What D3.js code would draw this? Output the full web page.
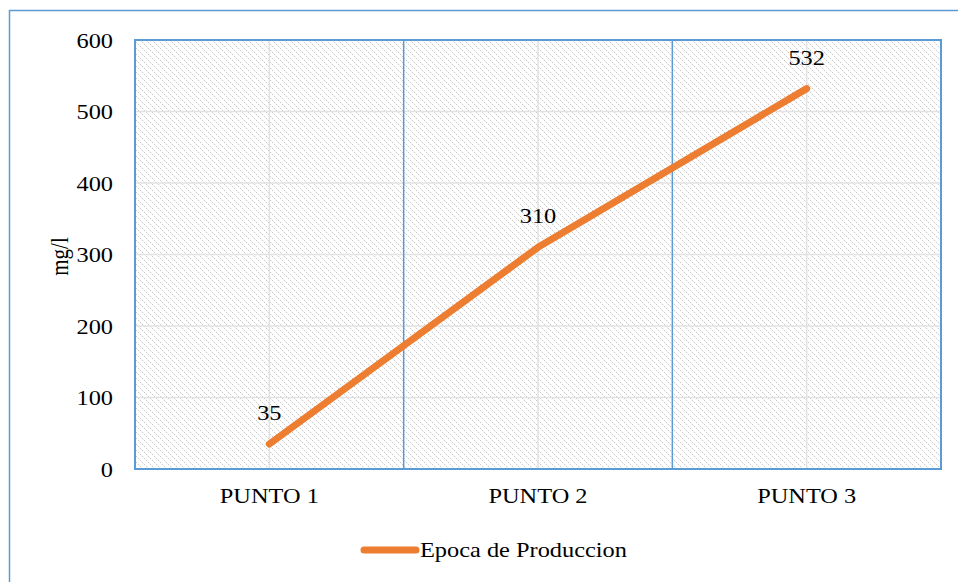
<!DOCTYPE html>
<html>
<head>
<meta charset="utf-8">
<script src="https://cdn.jsdelivr.net/npm/d3@7/dist/d3.min.js"></script>
<style>
  html, body { margin: 0; padding: 0; background: #fff; }
  svg { display: block; }
  svg text { font-family: "Liberation Serif", "Times New Roman", Times, serif; fill: #000; }
</style>
</head>
<body>
<svg id="chart" width="958" height="582"></svg>
<script>
// Data
const categories = ["PUNTO 1", "PUNTO 2", "PUNTO 3"];
const values = [35, 310, 532];
const yTicks = [0, 100, 200, 300, 400, 500, 600];
const seriesName = "Epoca de Produccion";
const yTitle = "mg/l";

const W = 958, H = 582;
const FONT = 21;
const SX = 1.16; // horizontal widening of the lettering
const margin = { left: 135, right: 17, top: 40, bottom: 113 };
const plotW = W - margin.left - margin.right;
const plotH = H - margin.top - margin.bottom;

const svg = d3.select("#chart");

// Hatched plot background: dotted downward diagonals on a 6px tile
const defs = svg.append("defs");
const pat = defs.append("pattern")
  .attr("id", "hatch")
  .attr("patternUnits", "userSpaceOnUse")
  .attr("x", margin.left).attr("y", margin.top)
  .attr("width", 6).attr("height", 6);
pat.append("rect").attr("width", 6).attr("height", 6).attr("fill", "#fff");
pat.selectAll("rect.px").data(d3.range(6)).join("rect")
  .attr("class", "px")
  .attr("x", d => d).attr("y", d => d)
  .attr("width", 1).attr("height", 1)
  .attr("shape-rendering", "crispEdges")
  .attr("fill", d => d % 2 === 0 ? "#c9c9c9" : "#ececec");

// Outer chart frame (left and top edges)
svg.append("path")
  .attr("d", `M9.5,${H} L9.5,10.5 L${W},10.5`)
  .attr("fill", "none")
  .attr("stroke", "#5b9bd5")
  .attr("stroke-width", 1.5);

const g = svg.append("g").attr("transform", `translate(${margin.left},${margin.top})`);

const x = d3.scaleBand().domain(categories).range([0, plotW]).padding(0);
const y = d3.scaleLinear().domain([0, 600]).range([plotH, 0]);

g.append("rect")
  .attr("width", plotW).attr("height", plotH)
  .attr("fill", "url(#hatch)");

// Light gridlines
g.append("g").selectAll("line").data(yTicks.slice(1)).join("line")
  .attr("x1", 0).attr("x2", plotW)
  .attr("y1", d => y(d)).attr("y2", d => y(d))
  .attr("stroke", "#e2e2e2").attr("stroke-width", 1.5);
g.append("g").selectAll("line").data(categories).join("line")
  .attr("x1", d => x(d) + x.bandwidth() / 2).attr("x2", d => x(d) + x.bandwidth() / 2)
  .attr("y1", 0).attr("y2", plotH)
  .attr("stroke", "#e2e2e2").attr("stroke-width", 1.5);

// Category separators
g.append("g").selectAll("line").data(categories.slice(1)).join("line")
  .attr("x1", d => x(d)).attr("x2", d => x(d))
  .attr("y1", 0).attr("y2", plotH)
  .attr("stroke", "#5b9bd5").attr("stroke-width", 1.5);

// Plot border
g.append("rect")
  .attr("width", plotW).attr("height", plotH)
  .attr("fill", "none")
  .attr("stroke", "#5b9bd5").attr("stroke-width", 2);

// Y axis labels
const yAxis = d3.axisLeft(y).tickValues(yTicks).tickSize(0).tickPadding(22 / SX);
const ya = g.append("g").call(yAxis).attr("font-family", null).attr("font-size", FONT);
ya.select(".domain").remove();
ya.selectAll("text").attr("dy", "0.35em").attr("transform", `scale(${SX},1)`);

// X axis labels
const xAxis = d3.axisBottom(x).tickSize(0).tickPadding(19);
const xa = g.append("g").attr("transform", `translate(0,${plotH})`).call(xAxis)
  .attr("font-family", null).attr("font-size", FONT);
xa.select(".domain").remove();
xa.selectAll("text").attr("transform", `scale(${SX},1)`);

// Y axis title
svg.append("text")
  .attr("transform", `translate(68,${margin.top + plotH / 2 + 2}) rotate(-90) scale(1,${SX})`)
  .attr("text-anchor", "middle")
  .attr("font-size", FONT)
  .text(yTitle);

// Series line
const pts = categories.map((c, i) => [x(c) + x.bandwidth() / 2, y(values[i])]);
g.append("path")
  .attr("d", d3.line()(pts))
  .attr("fill", "none")
  .attr("stroke", "#ed7d31")
  .attr("stroke-width", 7)
  .attr("stroke-linecap", "round")
  .attr("stroke-linejoin", "round");

// Data labels
g.append("g").selectAll("text").data(categories).join("text")
  .attr("transform", (d, i) => `translate(${x(d) + x.bandwidth() / 2},${y(values[i]) - 24}) scale(${SX},1)`)
  .attr("text-anchor", "middle")
  .attr("font-size", FONT)
  .text((d, i) => values[i]);

// Legend
const lg = svg.append("g");
lg.append("line")
  .attr("x1", 364).attr("x2", 416)
  .attr("y1", 550).attr("y2", 550)
  .attr("stroke", "#ed7d31").attr("stroke-width", 7)
  .attr("stroke-linecap", "round");
lg.append("text")
  .attr("transform", `translate(420,557) scale(${SX},1)`)
  .attr("font-size", FONT)
  .text(seriesName);
</script>
</body>
</html>
